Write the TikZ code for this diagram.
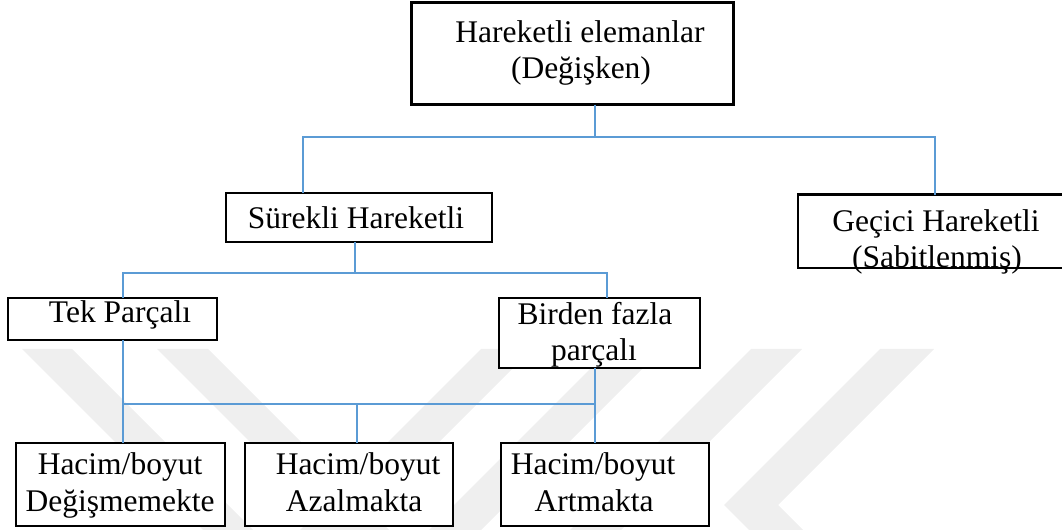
\documentclass[tikz,border=0pt]{standalone}
\usepackage{fontspec}
\setmainfont{Liberation Serif}
\definecolor{linkblue}{RGB}{91,155,213}
\definecolor{markgray}{RGB}{239,239,239}
\begin{document}
\begin{tikzpicture}[x=1bp,y=-1bp,
  box/.style={draw=black, fill=white, line width=2.2bp, inner sep=0pt, outer sep=0pt},
  label/.style={font=\fontsize{31.5bp}{37bp}\selectfont, inner sep=0pt, anchor=base},
  conn/.style={draw=linkblue, line width=1.3bp},
  band/.style={fill=markgray, draw=none}]
\useasboundingbox (0,0) rectangle (1062,530);
\clip (0,0) rectangle (1062,530);

% background watermark bands
\fill[band] (22,349) -- (72,349) -- (253,530) -- (203,530) -- cycle;
\fill[band] (157,349) -- (208,349) -- (389,530) -- (338,530) -- cycle;
\fill[band] (481,349) -- (532,349) -- (351,530) -- (300,530) -- cycle;
\fill[band] (610,349) -- (662,349) -- (481,530) -- (429,530) -- cycle;
\fill[band] (751,349) -- (802,349) -- (621,530) -- (570,530) -- cycle;
\fill[band] (880,349) -- (934,349) -- (778,505) -- (803,530) -- (749,530) -- (724,505) -- cycle;

% boxes
\node[box, line width=2.6bp, minimum width=322.4bp, minimum height=102.4bp] (top) at (572.5,53.5) {};
\node[box, minimum width=265.8bp, minimum height=48.8bp] (sur) at (359,217.5) {};
\node[box, minimum width=275.8bp, minimum height=73.8bp] (gec) at (936,231.5) {};
\node[box, minimum width=208.8bp, minimum height=41.8bp] (tek) at (112.5,319) {};
\node[box, minimum width=200.8bp, minimum height=69.8bp] (bir) at (599.5,333) {};
\node[box, minimum width=208.8bp, minimum height=82.8bp] (deg) at (120.5,484.5) {};
\node[box, minimum width=207.8bp, minimum height=82.8bp] (azal) at (349,484.5) {};
\node[box, minimum width=207.8bp, minimum height=82.8bp] (art) at (605,484.5) {};

% texts
\node[label] (topA) at (580,43) {Hareketli elemanlar};
\node[label] (topB) at (581,79) {(Değişken)};
\node[label] (surA) at (356,229) {Sürekli Hareketli};
\node[label] (gecA) at (936,232) {Geçici Hareketli};
\node[label] (gecB) at (937,268) {(Sabitlenmiş)};
\node[label] (tekA) at (120,323) {Tek Parçalı};
\node[label] (birA) at (595,325) {Birden fazla};
\node[label] (birB) at (594,361) {parçalı};
\node[label] (degA) at (120,474) {Hacim/boyut};
\node[label] (degB) at (120,511) {Değişmemekte};
\node[label] (azalA) at (358,474) {Hacim/boyut};
\node[label] (azalB) at (354,511) {Azalmakta};
\node[label] (artA) at (593,474) {Hacim/boyut};
\node[label] (artB) at (594,511) {Artmakta};

% junction points of the connector tree
\coordinate (a0) at (595,137);
\coordinate (aL) at (303,137);
\coordinate (aR) at (935,137);
\coordinate (b0) at (355,273);
\coordinate (bL) at (123,273);
\coordinate (bR) at (607,273);
\coordinate (c0) at (357,404);
\coordinate (cL) at (123,404);
\coordinate (cR) at (595,404);

% connectors
\draw[conn] (top.south -| a0) -- (a0);
\draw[conn] (sur.north -| aL) -- (aL) -- (aR) -- (gec.north -| aR);
\draw[conn] (sur.south -| b0) -- (b0);
\draw[conn] (tek.north -| bL) -- (bL) -- (bR) -- (bir.north -| bR);
\draw[conn] (tek.south -| cL) -- (deg.north -| cL);
\draw[conn] (bir.south -| cR) -- (art.north -| cR);
\draw[conn] (cL) -- (cR);
\draw[conn] (c0) -- (azal.north -| c0);
\end{tikzpicture}
\end{document}
